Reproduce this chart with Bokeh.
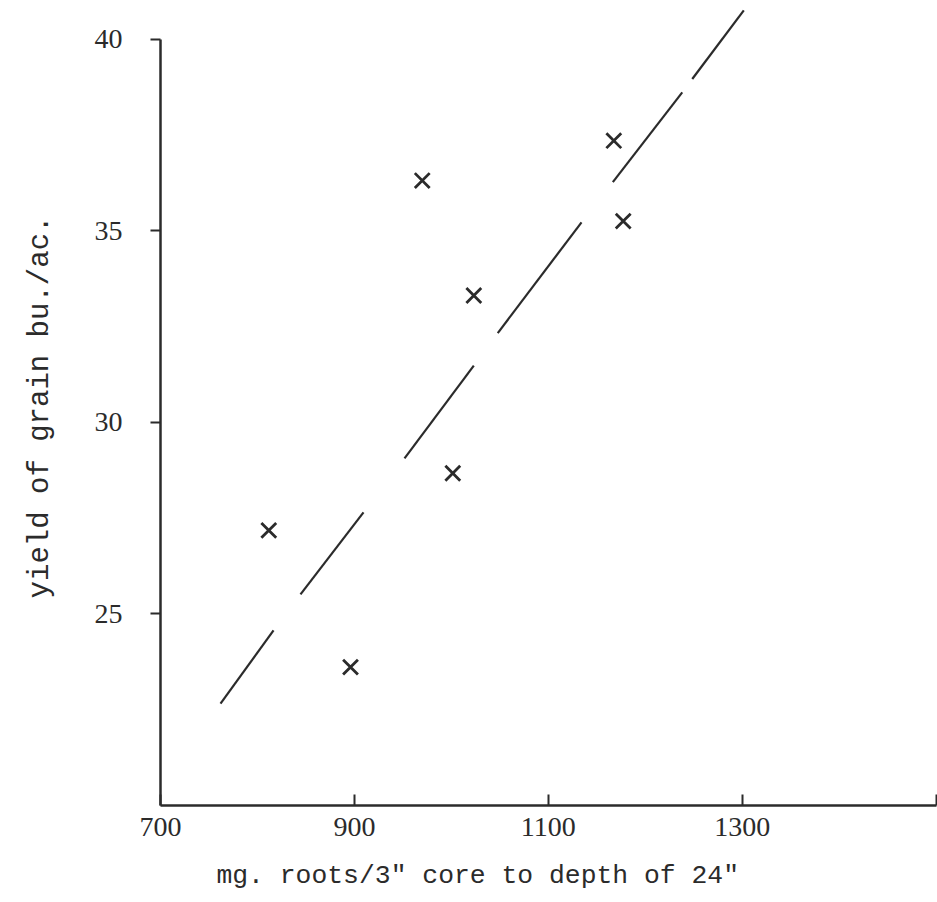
from bokeh.plotting import figure
from bokeh.models import Range1d, FixedTicker
from bokeh.embed import file_html
from bokeh.resources import INLINE

# data: roots (mg / 3" core to 24") vs. yield of grain (bu./ac.)
roots = [811.7, 896.0, 1001.5, 970.0, 1023.2, 1167.6, 1177.3]
yield_bu = [27.18, 23.61, 28.67, 36.31, 33.31, 37.35, 35.25]

# hand-drawn fitted line, drawn as irregular dashes (endpoints)
dash_x0 = [761.9, 844.4, 951.7, 1047.9, 1166.6, 1248.5]
dash_y0 = [22.66, 25.51, 29.06, 32.33, 36.27, 38.96]
dash_x1 = [816.6, 909.4, 1023.2, 1134.3, 1238.2, 1301.7]
dash_y1 = [24.57, 27.65, 31.48, 35.22, 38.61, 40.75]

x_ticks = [700, 900, 1100, 1300, 1500]
x_tick_labels = {700: "700", 900: "900", 1100: "1100", 1300: "1300", 1500: ""}
y_ticks = [25, 30, 35, 40]

x_title = 'mg. roots/3" core to depth of 24"'
y_title = "yield of grain bu./ac."

ink = "#2b2b2b"

p = figure(width=937, height=902, output_backend="svg", toolbar_location=None,
           x_range=Range1d(700, 1501.5), y_range=Range1d(20, 40.8),
           min_border_left=160, min_border_right=0, min_border_top=8,
           min_border_bottom=97)
p.outline_line_color = None
p.grid.visible = False
p.background_fill_color = "white"

p.segment(x0=dash_x0, y0=dash_y0, x1=dash_x1, y1=dash_y1,
          line_color=ink, line_width=2.2)
p.scatter(roots, yield_bu, marker="x", size=21, line_color=ink, line_width=2.8)

xa = p.xaxis[0]
xa.ticker = FixedTicker(ticks=x_ticks)
xa.major_label_overrides = x_tick_labels
xa.bounds = (700, 1500)
xa.axis_line_color = ink
xa.axis_line_width = 2.5
xa.major_tick_line_color = ink
xa.major_tick_line_width = 2
xa.major_tick_in = 11
xa.major_tick_out = 0
xa.minor_tick_line_color = None
xa.major_label_standoff = 12
xa.major_label_text_font = "Liberation Serif"
xa.major_label_text_font_size = "28px"
xa.major_label_text_color = ink
# label sits left of the axis centre in the original: pad with no-break spaces
xa.axis_label = x_title + "\u00a0" * 9
xa.axis_label_text_font = "Liberation Mono"
xa.axis_label_text_font_size = "26.4px"
xa.axis_label_text_font_style = "normal"
xa.axis_label_text_color = ink
xa.axis_label_standoff = 22

ya = p.yaxis[0]
ya.ticker = FixedTicker(ticks=y_ticks)
ya.bounds = (20, 40)
ya.axis_line_color = ink
ya.axis_line_width = 2.5
ya.major_tick_line_color = ink
ya.major_tick_line_width = 2
ya.major_tick_in = 0
ya.major_tick_out = 10
ya.minor_tick_line_color = None
ya.major_label_standoff = 28
ya.major_label_text_font = "Liberation Serif"
ya.major_label_text_font_size = "28px"
ya.major_label_text_color = ink
ya.axis_label = y_title
ya.axis_label_text_font = "Liberation Mono"
ya.axis_label_text_font_size = "29px"
ya.axis_label_text_font_style = "normal"
ya.axis_label_text_color = ink
ya.axis_label_standoff = 35

open("out.html", "w").write(file_html(p, INLINE))
